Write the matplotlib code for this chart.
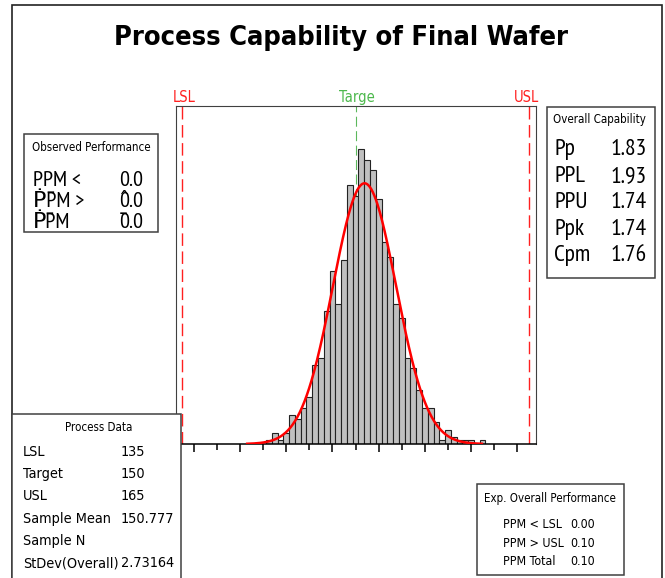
import numpy as np
import matplotlib
matplotlib.use("Agg")
import matplotlib.pyplot as plt
from matplotlib.patches import Rectangle

W, H = 665, 578   # figure size in pixels

# spec limits and process summary
lsl, target, usl = 135, 150, 165
mean, sd = 150.777, 2.73164

# histogram (bins of 0.5 starting at 142.25)
bin_start, bin_width = 142.25, 0.5
counts = [1, 3, 1, 3, 8, 7, 10, 13, 22, 24, 37, 48, 39, 51, 72, 69, 82, 79, 76, 68,
          56, 52, 39, 35, 24, 21, 15, 10, 10, 6, 1, 4, 2, 1, 1, 1, 0, 1]

obs_labels = ["PPM <", "\u1E56P\u0304M >", "\u1E56P\u0304M"]
obs_values = ["0.0", "0\u0302.0", "0\u0304.0"]
cap_labels = ["Pp", "PPL", "PPU", "Ppk", "Cpm"]
cap_values = ["1.83", "1.93", "1.74", "1.74", "1.76"]
pd_labels = ["LSL", "Target", "USL", "Sample Mean", "Sample N", "StDev(Overall)"]
pd_values = ["135", "150", "165", "150.777", "", "2.73164"]
exp_labels = ["PPM < LSL", "PPM > USL", "PPM Total"]
exp_values = ["0.00", "0.10", "0.10"]

SMALL = dict(family="DejaVu Sans", fontstretch="condensed")
BIG = dict(family=["PT Sans Narrow", "DejaVu Sans"])


def fx(x):
    return x / W


def fy(y):
    return 1 - y / H


def box(fig, x0, y0, x1, y1):
    fig.add_artist(Rectangle((fx(x0), fy(y1)), (x1 - x0) / W, (y1 - y0) / H,
                             transform=fig.transFigure, facecolor="white",
                             edgecolor="#404040", lw=1.1, zorder=5))


def txt(fig, x, y, s, size, ha="left", font=SMALL, **kw):
    fig.text(fx(x), fy(y), s, fontsize=size, ha=ha, va="baseline", zorder=6, **font, **kw)


fig = plt.figure(figsize=(W / 100, H / 100), dpi=100)

# outer frame
fig.add_artist(Rectangle((fx(11.7), fy(600)), (661.7 - 11.7) / W, (600 - 5) / H,
                         transform=fig.transFigure, facecolor="none",
                         edgecolor="#222222", lw=1.2, zorder=4))

ax = fig.add_axes([fx(176), fy(444), (535.7 - 176) / W, (444 - 105.7) / H])
edges = bin_start + bin_width * np.arange(len(counts) + 1)
ax.bar(edges[:-1], counts, width=bin_width, align="edge", color="#c0c0c0",
       edgecolor="#222222", linewidth=0.8, zorder=2)

xs = np.linspace(mean - 3.72 * sd, mean + 3.72 * sd, 300)
ys = sum(counts) * bin_width * np.exp(-0.5 * ((xs - mean) / sd) ** 2) / (sd * np.sqrt(2 * np.pi))
ax.plot(xs, ys, color="#ff0000", lw=1.8, zorder=3)

for v in (lsl, usl):
    ax.axvline(v, color="#ff2020", lw=1.0, ls=(0, (9, 4)), zorder=1)
ax.axvline(target, color="#5cb85c", lw=0.8, ls=(0, (9, 4)), zorder=1)

tr = ax.get_xaxis_transform()
ax.text(lsl + 0.15, 1.012, "LSL", transform=tr, ha="center", va="baseline",
        color="#ff2020", fontsize=10.5, clip_on=False, **SMALL)
ax.text(target + 0.1, 1.012, "Targe", transform=tr, ha="center", va="baseline",
        color="#4cb84c", fontsize=10.5, clip_on=False, **SMALL)
ax.text(usl - 0.2, 1.012, "USL", transform=tr, ha="center", va="baseline",
        color="#ff2020", fontsize=10.5, clip_on=False, **SMALL)

ax.set_xlim(134.45, 165.6)
ax.set_ylim(0, 94)
ax.set_xticks(np.arange(136, 165, 4))
ax.set_xticks(np.arange(138, 165, 4), minor=True)
ax.tick_params(axis="x", which="major", length=5.8, width=1.1, labelbottom=False)
ax.tick_params(axis="x", which="minor", length=4, width=1.1)
ax.set_yticks([])
for s in ("left", "top", "right"):
    ax.spines[s].set_color("#404040")
ax.spines["bottom"].set_color("black")
ax.spines["bottom"].set_linewidth(1.1)

txt(fig, 341.5, 45, "Process Capability of Final Wafer", 19.5, ha="center",
    fontweight="bold")

# Observed Performance
box(fig, 24, 134.3, 158.3, 232)
txt(fig, 91.3, 150.7, "Observed Performance", 8.3, ha="center")
for i, (lab, val) in enumerate(zip(obs_labels, obs_values)):
    y = 186.5 + i * 20.5
    txt(fig, 33.3, y, lab, 16, font=BIG)
    txt(fig, 143.3, y, val, 16, ha="right", font=BIG)

# Overall Capability
box(fig, 547.3, 106.7, 654.7, 278.3)
txt(fig, 599.5, 123.3, "Overall Capability", 8.3, ha="center")
for i, (lab, val) in enumerate(zip(cap_labels, cap_values)):
    y = 155 + i * 26.6
    txt(fig, 554.3, y, lab, 17, font=BIG)
    txt(fig, 646.7, y, val, 17, ha="right", font=BIG)

# Process Data
box(fig, 11.7, 413.5, 181, 600)
txt(fig, 98.3, 430.7, "Process Data", 8.3, ha="center")
for i, (lab, val) in enumerate(zip(pd_labels, pd_values)):
    y = 455.7 + i * 22.3
    txt(fig, 22.7, y, lab, 10.4)
    txt(fig, 120.7, y, val, 10.4)

# Exp. Overall Performance
box(fig, 477.3, 484, 624, 575)
txt(fig, 484, 502.3, "Exp. Overall Performance", 8.3)
for i, (lab, val) in enumerate(zip(exp_labels, exp_values)):
    y = 528.3 + i * 18.3
    txt(fig, 502.7, y, lab, 8.9)
    txt(fig, 570, y, val, 8.9)

fig.savefig("out.png", dpi=100)
